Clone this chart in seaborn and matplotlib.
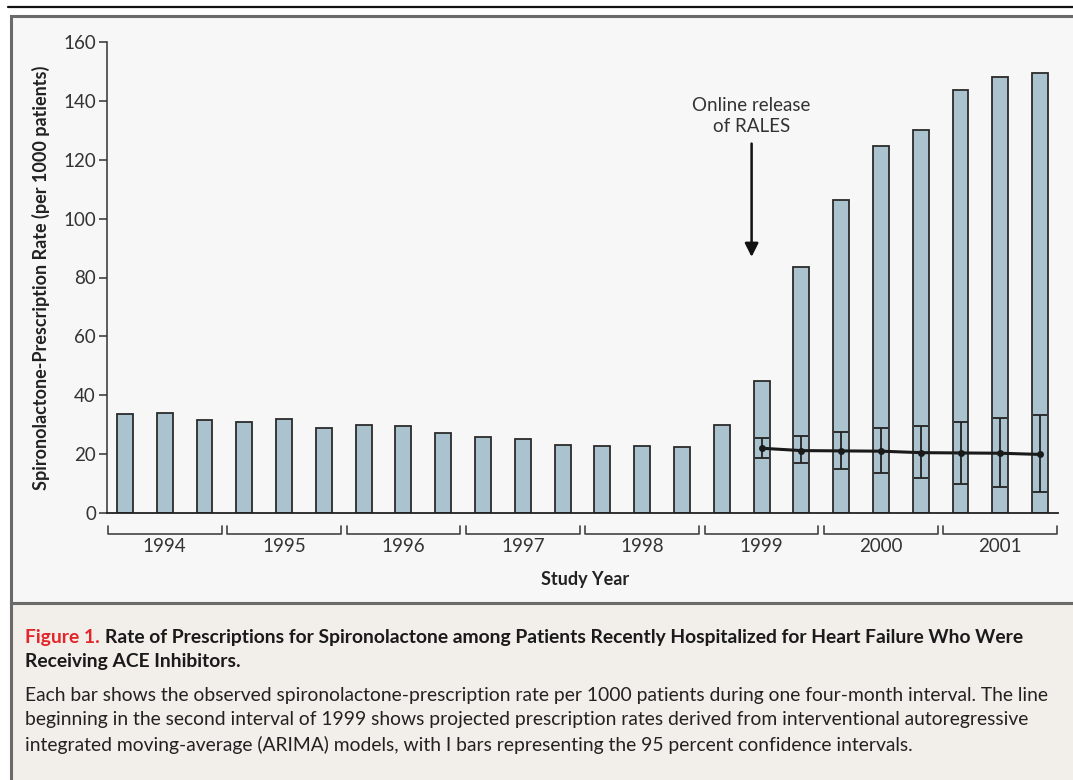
import numpy as np
import pandas as pd
import matplotlib
matplotlib.use("Agg")
import matplotlib.pyplot as plt
from matplotlib.patches import Rectangle
from matplotlib.lines import Line2D
import seaborn as sns

# observed rates, one bar per four-month interval (3 per year)
years = ["1994", "1995", "1996", "1997", "1998", "1999", "2000", "2001"]
rates = [33.7, 34.1, 31.7,
         30.8, 31.8, 28.8,
         29.8, 29.4, 27.3,
         25.8, 25.0, 23.2,
         22.7, 22.7, 22.3,
         30.0, 44.8, 83.7,
         106.3, 124.8, 130.1,
         143.6, 148.2, 149.6]

# ARIMA projection, starting with second interval of 1999
proj_start = 16
proj_rate = [22.0, 21.2, 21.1, 21.0, 20.5, 20.4, 20.3, 19.9]
proj_lo = [18.7, 16.9, 15.0, 13.6, 11.9, 10.0, 8.8, 7.1]
proj_hi = [25.5, 26.0, 27.5, 28.8, 29.5, 31.0, 32.4, 33.4]

yticks = [0, 20, 40, 60, 80, 100, 120, 140, 160]

sns.set_style("ticks")
plt.rcParams["font.family"] = ["Lato", "DejaVu Sans"]

W, H = 1073, 780
fig = plt.figure(figsize=(W / 100, H / 100), dpi=100)
fig.patch.set_facecolor("white")

def fx(px):
    return px / W

def fy(py):
    return 1 - py / H

# top rule, chart panel, caption panel (behind the axes)
fig.add_artist(Line2D([fx(8), 1], [fy(7), fy(7)], color="#111111", lw=1.6, zorder=-5))
fig.add_artist(Rectangle((fx(11), fy(603)), fx(1075) - fx(11), fy(16) - fy(603),
                         transform=fig.transFigure, facecolor="#f7f7f7",
                         edgecolor="#6a6a6a", lw=2.2, zorder=-10))
fig.add_artist(Rectangle((fx(11), fy(782)), fx(1075) - fx(11), fy(603) - fy(782),
                         transform=fig.transFigure, facecolor="#f2eee9",
                         edgecolor="#6a6a6a", lw=2.2, zorder=-10))

ax = fig.add_axes([fx(107), fy(513), fx(1058) - fx(107), fy(42) - fy(513)])
ax.set_facecolor("none")
ax.set_zorder(1)

df = pd.DataFrame({"interval": np.arange(len(rates)), "rate": rates})
sns.barplot(data=df, x="interval", y="rate", color="#abc3cf", saturation=1,
            width=0.4, edgecolor="#2b2b2b", linewidth=1.3, ax=ax, zorder=2)

px = np.arange(proj_start, proj_start + len(proj_rate))
pr = np.array(proj_rate)
ax.errorbar(px, pr, yerr=[pr - np.array(proj_lo), np.array(proj_hi) - pr],
            fmt="none", ecolor="#222222", elinewidth=1.3, capsize=5, capthick=1.3, zorder=3)
sns.lineplot(x=px, y=pr, color="#1a1a1a", lw=2.2, marker="o", markersize=5,
             markeredgewidth=0, ax=ax, zorder=4)

ax.set_xlim(-0.45, 23.45)
ax.set_ylim(0, 160)
ax.set_yticks(yticks)
ax.set_yticklabels([str(t) for t in yticks], fontsize=13.5, color="#333333")
ax.tick_params(axis="y", length=6, width=1.1, color="#333333", pad=2)
ax.set_xticks([])
ax.set_xlabel("")
ax.set_ylabel("Spironolactone-Prescription Rate (per 1000 patients)",
              fontsize=13, fontweight="bold", color="#222222")
ax.yaxis.set_label_coords(-0.06, 0.5)
sns.despine(ax=ax)
ax.spines["left"].set_color("#333333")
ax.spines["left"].set_linewidth(1.1)
ax.spines["bottom"].set_color("#222222")
ax.spines["bottom"].set_linewidth(1.3)

# year brackets under the axis
trans = ax.get_xaxis_transform()
for i, yr in enumerate(years):
    x0 = 3 * i - 0.43
    x1 = 3 * i + 2 + 0.43
    top, bot = -0.027, -0.045
    ax.plot([x0, x0, x1, x1], [top, bot, bot, top], color="#444444", lw=1.2,
            transform=trans, clip_on=False)
    ax.text(3 * i + 1, -0.072, yr, ha="center", va="center", fontsize=13.5,
            color="#333333", transform=trans)

fig.text(fx(585), fy(579), "Study Year", ha="center", va="center",
         fontsize=13, fontweight="bold", color="#222222")

# RALES annotation
ax.annotate("Online release\nof RALES", xy=(15.75, 87), xytext=(15.75, 128.5),
            ha="center", va="bottom", fontsize=13.5, color="#333333", linespacing=1.25,
            arrowprops=dict(arrowstyle="-|>,head_width=0.3,head_length=0.6",
                            color="#111111", lw=1.8, shrinkA=4, shrinkB=0))

# caption
cap_fs = 13.9
t1 = fig.text(fx(25), fy(637), "Figure 1.", color="#e3262a", fontsize=cap_fs,
              fontweight="bold", va="center", ha="left")
fig.canvas.draw()
bb = t1.get_window_extent(renderer=fig.canvas.get_renderer())
x_after = bb.x1 / fig.bbox.width + fx(5)
fig.text(x_after, fy(637),
         "Rate of Prescriptions for Spironolactone among Patients Recently Hospitalized for Heart Failure Who Were",
         color="#1a1a1a", fontsize=cap_fs, fontweight="bold", va="center", ha="left")
fig.text(fx(25), fy(662), "Receiving ACE Inhibitors.", color="#1a1a1a", fontsize=cap_fs,
         fontweight="bold", va="center", ha="left")
caption = ["Each bar shows the observed spironolactone-prescription rate per 1000 patients during one four-month interval. The line",
           "beginning in the second interval of 1999 shows projected prescription rates derived from interventional autoregressive",
           "integrated moving-average (ARIMA) models, with I bars representing the 95 percent confidence intervals."]
for k, line in enumerate(caption):
    fig.text(fx(25), fy(695 + 25 * k), line, color="#222222", fontsize=cap_fs,
             va="center", ha="left")

fig.savefig("out.png", dpi=100, facecolor=fig.get_facecolor())
